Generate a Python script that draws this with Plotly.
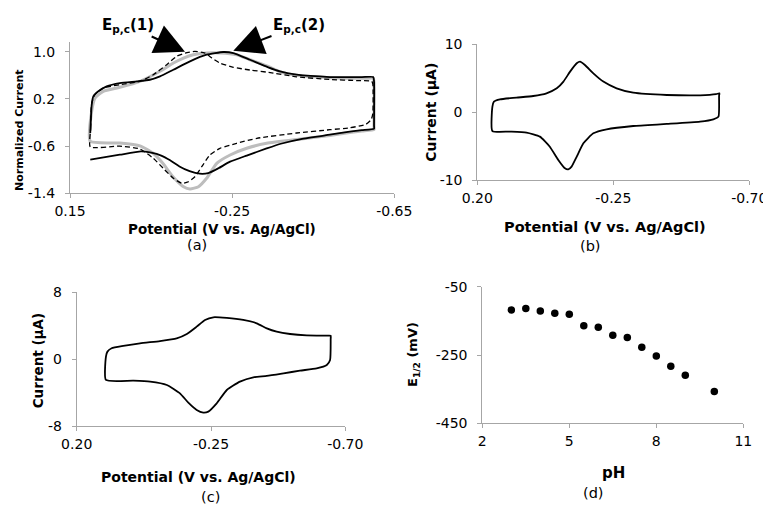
import plotly.graph_objects as go

# ---------------- Panel (a): normalized CVs ----------------
a_solid_v = [0.100, 0.0965, 0.0925, 0.080, 0.0595, 0.027, -0.0146, -0.047, -0.072, -0.105, -0.146,
             -0.187, -0.228, -0.253, -0.294, -0.339, -0.368, -0.409, -0.491, -0.570, -0.598,
             -0.600, -0.600, -0.600, -0.570, -0.540, -0.491, -0.420, -0.370, -0.335, -0.286, -0.245,
             -0.216, -0.191, -0.170, -0.145, -0.120, -0.097, -0.075, -0.050, -0.025, 0.027, 0.100]
a_solid_i = [-0.378, 0.10, 0.244, 0.329, 0.414, 0.469, 0.498, 0.525, 0.583, 0.695, 0.837,
             0.949, 0.995, 0.978, 0.864, 0.736, 0.668, 0.610, 0.571, 0.570, 0.571,
             0.500, -0.250, -0.305, -0.330, -0.356, -0.407, -0.480, -0.560, -0.640, -0.760, -0.864,
             -0.976, -1.058, -1.068, -1.025, -0.945, -0.840, -0.760, -0.712, -0.690, -0.746, -0.830]

a_dash_v = [0.100, 0.099, 0.0965, 0.0885, 0.068, 0.027, -0.0227, -0.0555, -0.0886, -0.113, -0.134,
            -0.158, -0.183, -0.200, -0.220, -0.253, -0.294, -0.340, -0.409, -0.491, -0.560, -0.594,
            -0.597, -0.597, -0.593, -0.580, -0.540, -0.491, -0.409, -0.311, -0.261, -0.220, -0.195,
            -0.175, -0.158, -0.142, -0.126, -0.105, -0.080, -0.0555, -0.0227, 0.027, 0.100]
a_dash_i = [-0.615, -0.30, 0.13, 0.271, 0.385, 0.440, 0.498, 0.610, 0.780, 0.922, 0.978,
            1.007, 0.978, 0.893, 0.808, 0.736, 0.690, 0.650, 0.575, 0.530, 0.510, 0.500,
            0.450, -0.050, -0.150, -0.230, -0.290, -0.322, -0.378, -0.468, -0.553, -0.637, -0.751,
            -0.949, -1.119, -1.204, -1.231, -1.146, -0.976, -0.807, -0.650, -0.600, -0.615]

a_gray_v = [0.100, 0.0965, 0.088, 0.068, 0.027, -0.0227, -0.072, -0.105, -0.130, -0.154, -0.187,
            -0.220, -0.261, -0.294, -0.339, -0.368, -0.409, -0.491, -0.570, -0.598,
            -0.600, -0.600, -0.600, -0.570, -0.540, -0.491, -0.420, -0.335, -0.286, -0.245, -0.212,
            -0.187, -0.167, -0.146, -0.130, -0.104, -0.079, -0.055, -0.0227, 0.027, 0.100]
a_gray_i = [-0.519, -0.01, 0.215, 0.329, 0.397, 0.498, 0.668, 0.808, 0.893, 0.949, 0.978,
            0.978, 0.949, 0.864, 0.752, 0.660, 0.600, 0.560, 0.550, 0.550,
            0.480, -0.280, -0.320, -0.345, -0.370, -0.420, -0.480, -0.553, -0.637, -0.751, -0.892,
            -1.146, -1.288, -1.327, -1.288, -1.119, -0.892, -0.722, -0.595, -0.547, -0.519]

a_xticks = [0.15, -0.25, -0.65]
a_xticklabels = ["0.15", "-0.25", "-0.65"]
a_yticks = [-1.4, -0.6, 0.2, 1.0]
a_yticklabels = ["-1.4", "-0.6", "0.2", "1.0"]

# ---------------- Panel (b): CV ----------------
b_v = [0.150, 0.150, 0.145, 0.125, 0.070, 0.015, -0.029, -0.063, -0.085, -0.107, -0.129, -0.140,
       -0.156, -0.184, -0.217, -0.261, -0.316, -0.427, -0.537, -0.590, -0.601, -0.600, -0.598,
       -0.581, -0.537, -0.427, -0.316, -0.228, -0.184, -0.151, -0.129, -0.112, -0.101, -0.090,
       -0.068, -0.040, -0.007, 0.037, 0.092, 0.150]
b_i = [-2.78, 0.81, 1.55, 1.89, 2.14, 2.38, 2.78, 3.51, 4.50, 5.97, 7.20, 7.44,
       6.95, 5.72, 4.50, 3.51, 2.87, 2.53, 2.48, 2.65, 2.78, 2.40, -0.66,
       -1.06, -1.40, -1.74, -2.04, -2.53, -3.12, -4.59, -6.56, -8.03, -8.43, -8.28,
       -7.05, -5.09, -3.61, -3.02, -2.87, -2.78]
b_xticks = [0.20, -0.25, -0.70]
b_xticklabels = ["0.20", "-0.25", "-0.70"]
b_yticks = [-10, 0, 10]
b_yticklabels = ["-10", "0", "10"]

# ---------------- Panel (c): CV ----------------
c_v = [0.102, 0.102, 0.097, 0.083, 0.044, -0.012, -0.079, -0.135, -0.169, -0.202, -0.230, -0.258,
       -0.303, -0.358, -0.403, -0.437, -0.470, -0.515, -0.571, -0.640, -0.651, -0.651, -0.649,
       -0.638, -0.604, -0.548, -0.493, -0.437, -0.392, -0.347, -0.303, -0.269, -0.241, -0.224,
       -0.202, -0.174, -0.146, -0.102, -0.046, 0.010, 0.102]
c_i = [-2.49, 0.30, 0.90, 1.30, 1.58, 1.90, 2.17, 2.49, 3.01, 3.89, 4.69, 5.01,
       4.93, 4.69, 4.29, 3.69, 3.29, 3.01, 2.85, 2.82, 2.81, 2.40, -0.10,
       -0.70, -1.10, -1.38, -1.70, -2.01, -2.17, -2.69, -3.69, -5.29, -6.28, -6.40,
       -6.08, -5.21, -4.09, -3.09, -2.69, -2.57, -2.49]
c_xticks = [0.20, -0.25, -0.70]
c_xticklabels = ["0.20", "-0.25", "-0.70"]
c_yticks = [-8, 0, 8]
c_yticklabels = ["-8", "0", "8"]

# ---------------- Panel (d): E1/2 vs pH ----------------
d_ph = [3.0, 3.5, 4.0, 4.5, 5.0, 5.5, 6.0, 6.5, 7.0, 7.5, 8.0, 8.5, 9.0, 10.0]
d_e = [-118, -114, -121, -128, -131, -164, -169, -192, -199, -227, -253, -283, -309, -357]
d_xticks = [2, 5, 8, 11]
d_yticks = [-450, -250, -50]

# The page body has an 8px default margin; size the figure to fit the 771x506 window.
OFF = 8
W, H = 771 - OFF, 506 - OFF
def fx(p):
    return (p - OFF) / W
def fy(p):
    return 1 - (p - OFF) / H

FONT = "DejaVu Sans"
AX = "#a6a6a6"
SPL = dict(shape="spline", smoothing=0.5)

fig = go.Figure()
fig.add_trace(go.Scatter(x=a_gray_v, y=a_gray_i, xaxis="x", yaxis="y", mode="lines",
                         line=dict(color="#bdbdbd", width=3, **SPL)))
fig.add_trace(go.Scatter(x=a_solid_v, y=a_solid_i, xaxis="x", yaxis="y", mode="lines",
                         line=dict(color="black", width=1.8, **SPL)))
fig.add_trace(go.Scatter(x=a_dash_v, y=a_dash_i, xaxis="x", yaxis="y", mode="lines",
                         line=dict(color="black", width=1.3, dash="5px,3px", **SPL)))
fig.add_trace(go.Scatter(x=b_v, y=b_i, xaxis="x2", yaxis="y2", mode="lines",
                         line=dict(color="black", width=1.8, **SPL)))
fig.add_trace(go.Scatter(x=c_v, y=c_i, xaxis="x3", yaxis="y3", mode="lines",
                         line=dict(color="black", width=1.8, **SPL)))
fig.add_trace(go.Scatter(x=d_ph, y=d_e, xaxis="x4", yaxis="y4", mode="markers",
                         marker=dict(color="black", size=7.5)))

def axis(domain, rng, tickvals, ticktext, anchor, standoff):
    return dict(domain=domain, range=rng, tickvals=tickvals, ticktext=ticktext, anchor=anchor,
                showline=True, linecolor=AX, linewidth=1, ticks="outside", ticklen=4,
                tickcolor=AX, showgrid=False, zeroline=False, ticklabelstandoff=standoff,
                automargin=False,
                tickfont=dict(family=FONT, size=14, color="black"), fixedrange=True)

fig.update_layout(
    template="none",
    width=W, height=H, margin=dict(l=0, r=0, t=0, b=0, pad=0, autoexpand=False),
    paper_bgcolor="white", plot_bgcolor="white", showlegend=False,
    font=dict(family=FONT, color="black"),
    xaxis=axis([fx(70), fx(394.3)], [0.15, -0.65], a_xticks, a_xticklabels, "y", 1),
    yaxis=axis([fy(193.3), fy(41.7)], [-1.4, 1.17], a_yticks, a_yticklabels, "x", 7),
    xaxis2=axis([fx(477.3), fx(749.3)], [0.20, -0.70], b_xticks, b_xticklabels, "y2", 1),
    yaxis2=axis([fy(180), fy(44.3)], [-10, 10], b_yticks, b_yticklabels, "x2", 7),
    xaxis3=axis([fx(76.7), fx(345.3)], [0.20, -0.70], c_xticks, c_xticklabels, "y3", 1),
    yaxis3=axis([fy(426), fy(292.3)], [-8, 8], c_yticks, c_yticklabels, "x3", 7),
    xaxis4=axis([fx(482.3), fx(743.3)], [2, 11], d_xticks, [str(v) for v in d_xticks], "y4", 1),
    yaxis4=axis([fy(423.3), fy(286.7)], [-450, -50], d_yticks, [str(v) for v in d_yticks], "x4", 7),
)

anns = []
def text(t, x, y, size=12, bold=True, angle=0):
    anns.append(dict(text=("<b>%s</b>" % t) if bold else t, x=fx(x), y=fy(y), xref="paper", yref="paper",
                     showarrow=False, xanchor="center", yanchor="middle", textangle=angle,
                     font=dict(family=FONT, size=size, color="black")))

text("Potential (V vs. Ag/AgCl)", 221.7, 229, size=13.5)
text("(a)", 197, 245.5, size=14.5, bold=False)
text("Normalized Current", 20, 131, size=11, angle=-90)
text("Potential (V vs. Ag/AgCl)", 605, 226.7, size=14.5)
text("(b)", 590, 246, size=14.5, bold=False)
text("Current (μA)", 430.7, 112, size=14, angle=-90)
text("Potential (V vs. Ag/AgCl)", 198, 476.7, size=14)
text("(c)", 210, 496.5, size=14.5, bold=False)
text("Current (μA)", 38.3, 361, size=13.5, angle=-90)
text("pH", 613, 473.3, size=15)
text("(d)", 593, 493, size=14.5, bold=False)
text("E<sub>1/2</sub> (mV)", 413, 355, size=13, angle=-90)

for label, tail, tip in [("E<sub>p,c</sub>(1)", (127.5, 25.5), (185, 51.7)),
                         ("E<sub>p,c</sub>(2)", (299, 25.5), (233.3, 50.7))]:
    anns.append(dict(text="<b>%s</b>" % label, x=fx(tip[0]), y=fy(tip[1]), xref="paper", yref="paper",
                     ax=tail[0] - tip[0], ay=tail[1] - tip[1], axref="pixel", ayref="pixel",
                     showarrow=True, arrowhead=2, arrowsize=3, arrowwidth=2, arrowcolor="black",
                     font=dict(family=FONT, size=15, color="black")))

fig.update_layout(annotations=anns)
fig.write_html("out.html")
